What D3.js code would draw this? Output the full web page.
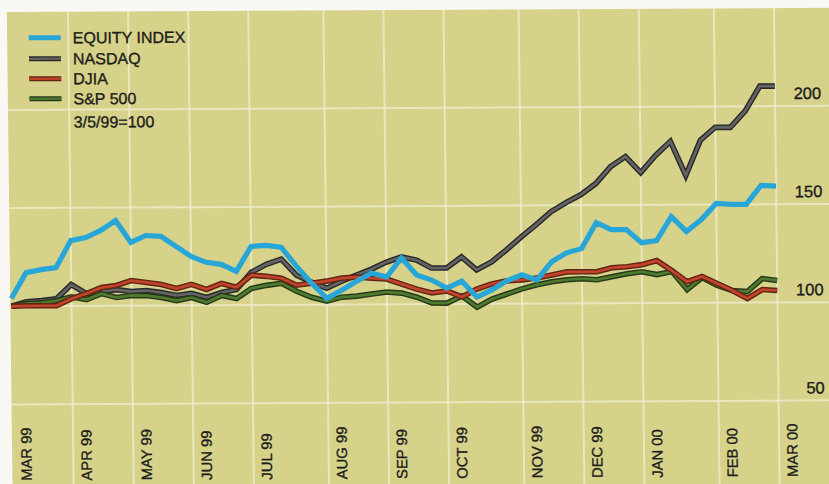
<!DOCTYPE html>
<html>
<head>
<meta charset="utf-8">
<script src="https://cdn.jsdelivr.net/npm/d3@7/dist/d3.min.js"></script>
<style>
  html, body { margin: 0; padding: 0; background: #f9f8f4; }
  svg { display: block; }
  text { font-family: "Liberation Sans", Arial, sans-serif; fill: #1d1d1a; stroke: #1d1d1a; stroke-width: 0.35px; }
</style>
</head>
<body>
<svg id="chart" width="829" height="484"></svg>
<script>
// Weekly closes, indexed so that 3/5/99 = 100 (52 weeks, Mar 99 - Mar 00)
const equityIndex = [104.0,117.1,118.6,119.6,133.3,134.8,138.4,143.4,132.2,135.7,
  135.2,130.1,124.9,121.9,120.8,117.2,129.9,130.4,129.4,119.7,
  111.0,103.3,107.3,111.9,116.0,113.9,123.6,114.9,112.3,108.2,
  111.7,103.5,107.1,111.7,114.7,112.1,121.3,125.8,127.9,141.1,
  137.5,137.5,130.8,131.8,144.0,136.4,142.4,150.6,150.1,150.0,
  159.7,159.2];
const nasdaq = [100,102.3,102.8,103.7,110.9,106.3,107.2,108.2,107.2,107.7,
  106.6,105.1,106.1,104.0,106.5,108.0,116.7,120.7,123.3,115.1,
  111.5,108.4,111.9,115.0,118.0,121.6,124.1,122.5,118.4,118.4,
  124.0,117.3,121.4,127.5,134.1,140.2,146.8,151.4,155.4,161.0,
  169.6,174.7,166.5,175.2,182.3,164.9,182.8,189.4,189.3,197.5,
  210.2,210.2];
const djia = [100,100.2,100.2,100.2,103.7,106.3,109.3,110.3,112.8,111.8,
  110.7,108.6,110.7,108.1,111.1,109.1,115.2,114.6,113.6,110.0,
  111.0,112.0,113.5,114.0,113.4,112.9,110.3,107.7,105.7,106.7,
  103.6,107.6,110.2,111.7,112.1,113.1,114.6,116.1,116.1,116.1,
  118.1,118.6,119.6,121.6,116.5,110.8,113.4,109.8,106.2,102.1,
  106.6,106.1];
const sp500 = [100,101.3,101.7,102.7,104.7,103.2,106.2,104.2,105.2,105.1,
  104.1,102.5,104.0,101.5,105.0,103.4,108.5,110.0,111.0,106.9,
  103.8,101.8,103.8,104.3,105.3,106.3,105.7,103.6,100.6,100.5,
  104.1,98.4,102.5,105.0,107.6,109.6,111.1,112.1,112.6,112.0,
  113.5,115.0,116.0,114.5,116.0,106.8,112.9,108.8,106.2,105.6,
  112.2,111.2];

// Month labels and the week index each month starts at
const monthLabels = ["MAR 99","APR 99","MAY 99","JUN 99","JUL 99","AUG 99","SEP 99",
  "OCT 99","NOV 99","DEC 99","JAN 00","FEB 00","MAR 00"];
const monthWeeks = [0,4,8,12,16,21,25,29,34,38,42,47,51];
const yTicks = [50,100,150,200];
const seriesNames = ["EQUITY INDEX","NASDAQ","DJIA","S&P 500"];
const baseNote = "3/5/99=100";

const svg = d3.select("#chart");
const x = d3.scaleLinear().domain([0, 51]).range([10.8, 776.8]);
const y = d3.scaleLinear().domain([50, 200]).range([402.5, 108]);

// whole printed panel sits slightly askew on the page
const g = svg.append("g").attr("transform", "matrix(1,-0.005,0.012,1,-3,2)");

g.append("rect")
  .attr("x", 9.7).attr("y", 10)
  .attr("width", 860).attr("height", 500)
  .attr("fill", "#d6d28a");

// grid
const grid = g.append("g")
  .attr("stroke", "#f1efd4").attr("stroke-opacity", 0.7).attr("stroke-width", 2);
grid.selectAll("line.h").data(yTicks).join("line")
  .attr("class", "h")
  .attr("x1", 9.7).attr("x2", 870)
  .attr("y1", d => y(d)).attr("y2", d => y(d));
grid.selectAll("line.v").data(monthWeeks.slice(1)).join("line")
  .attr("class", "v")
  .attr("x1", d => x(d)).attr("x2", d => x(d))
  .attr("y1", 10).attr("y2", 510);

// y labels on the right
g.append("g").selectAll("text").data(yTicks).join("text")
  .attr("x", 823).attr("y", d => y(d) - 7)
  .attr("text-anchor", "end")
  .attr("font-size", 16.5)
  .text(d => d);

// month labels, rotated
g.append("g").selectAll("text").data(monthWeeks).join("text")
  .attr("transform", (d) => `translate(${x(d) + 18.3},479) rotate(-90)`)
  .attr("font-size", 14.8)
  .text((d, i) => monthLabels[i]);

// series lines
const line = d3.line().x((d, i) => x(i)).y(d => y(d));
const styles = [
  { data: nasdaq, edge: "#292929", core: "#646464" },
  { data: sp500,  edge: "#27391a", core: "#4e7b2e" },
  { data: djia,   edge: "#5f2515", core: "#c4442a" },
];
const lines = g.append("g").attr("fill", "none").attr("stroke-linejoin", "miter").attr("stroke-miterlimit", 3);
styles.forEach(s => {
  lines.append("path").attr("d", line(s.data)).attr("stroke", s.edge).attr("stroke-width", 5.6);
  lines.append("path").attr("d", line(s.data)).attr("stroke", s.core).attr("stroke-width", 2.7);
});
lines.append("path").attr("d", line(equityIndex))
  .attr("stroke", "#29a6d8").attr("stroke-width", 5.2);

// legend
const rowY = [36, 57, 77, 97];
const legend = g.append("g");
const swatches = [
  { edge: null, core: "#29a6d8" },
  { edge: "#292929", core: "#646464" },
  { edge: "#5f2515", core: "#c4442a" },
  { edge: "#27391a", core: "#4e7b2e" },
];
swatches.forEach((s, i) => {
  if (s.edge) {
    legend.append("line").attr("x1", 31.3).attr("x2", 63.3)
      .attr("y1", rowY[i]).attr("y2", rowY[i])
      .attr("stroke", s.edge).attr("stroke-width", 5);
    legend.append("line").attr("x1", 31.3).attr("x2", 63.3)
      .attr("y1", rowY[i]).attr("y2", rowY[i])
      .attr("stroke", s.core).attr("stroke-width", 2.2);
  } else {
    legend.append("line").attr("x1", 31.3).attr("x2", 63.3)
      .attr("y1", rowY[i]).attr("y2", rowY[i])
      .attr("stroke", s.core).attr("stroke-width", 5);
  }
  legend.append("text").attr("x", 75.3).attr("y", rowY[i] + 5.7)
    .attr("font-size", 16).text(seriesNames[i]);
});
legend.append("text").attr("x", 75.3).attr("y", 126)
  .attr("font-size", 16).text(baseNote);
</script>
</body>
</html>
